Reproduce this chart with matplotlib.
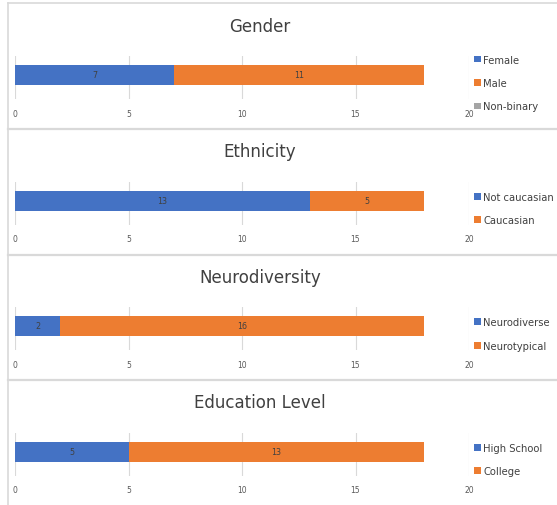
import matplotlib
matplotlib.use("Agg")
import matplotlib.pyplot as plt
from matplotlib.lines import Line2D
from matplotlib.patches import Patch

titles = ["Gender", "Ethnicity", "Neurodiversity", "Education Level"]
labels = [["Female", "Male", "Non-binary"],
          ["Not caucasian", "Caucasian"],
          ["Neurodiverse", "Neurotypical"],
          ["High School", "College"]]
values = [[7, 11, 0],
          [13, 5],
          [2, 16],
          [5, 13]]
colors = ["#4472C4", "#ED7D31", "#A5A5A5"]
xticks = [0, 5, 10, 15, 20]

W, H = 557, 506
fig = plt.figure(figsize=(W / 100, H / 100), dpi=100)
fig.patch.set_facecolor("white")

def fx(px):
    return px / W

def fy(py):
    return 1 - py / H

border = "#D9D9D9"
fig.add_artist(Line2D([fx(8), fx(8)], [fy(4), fy(506)], color=border, lw=1.2, transform=fig.transFigure))
fig.add_artist(Line2D([fx(8), fx(557)], [fy(4), fy(4)], color=border, lw=1.2, transform=fig.transFigure))
for yy in [130, 255.5, 381]:
    fig.add_artist(Line2D([fx(8), fx(557)], [fy(yy), fy(yy)], color=border, lw=1.6, transform=fig.transFigure))

offset = 125.5
for i, (t, labs, vals) in enumerate(zip(titles, labels, values)):
    o = i * offset
    top, bot = 57 + o, 100 + o
    ax = fig.add_axes([fx(15), fy(bot), fx(469) - fx(15), (bot - top) / H])
    left = 0
    handles = []
    for j, (lab, v) in enumerate(zip(labs, vals)):
        ax.barh(0, v, left=left, height=1.0, color=colors[j], zorder=3)
        if v > 0:
            ax.text(left + v / 2, 0, str(v), ha="center", va="center", fontsize=5.8, color="#404040", zorder=4)
        left += v
        handles.append(Patch(facecolor=colors[j], label=lab))
    ax.set_xlim(0, 20)
    ax.set_ylim(-1.2, 0.95)
    ax.set_xticks(xticks)
    ax.set_yticks([])
    ax.grid(axis="x", color="#D9D9D9", lw=0.8, zorder=0)
    for s in ax.spines.values():
        s.set_visible(False)
    ax.tick_params(axis="x", length=0, labelsize=5.5, labelcolor="#595959", pad=7)
    fig.text(fx(260), fy(27 + o), t, ha="center", va="center", fontsize=12, color="#404040")
    ax.legend(handles=handles, loc="center left",
              bbox_to_anchor=(fx(474), fy(84 + o)), bbox_transform=fig.transFigure,
              frameon=False, fontsize=7.2, borderpad=0, borderaxespad=0,
              handlelength=0.65, handleheight=0.65, handletextpad=0.25, labelspacing=1.35,
              labelcolor="#404040")

fig.savefig("out.png", dpi=100)
